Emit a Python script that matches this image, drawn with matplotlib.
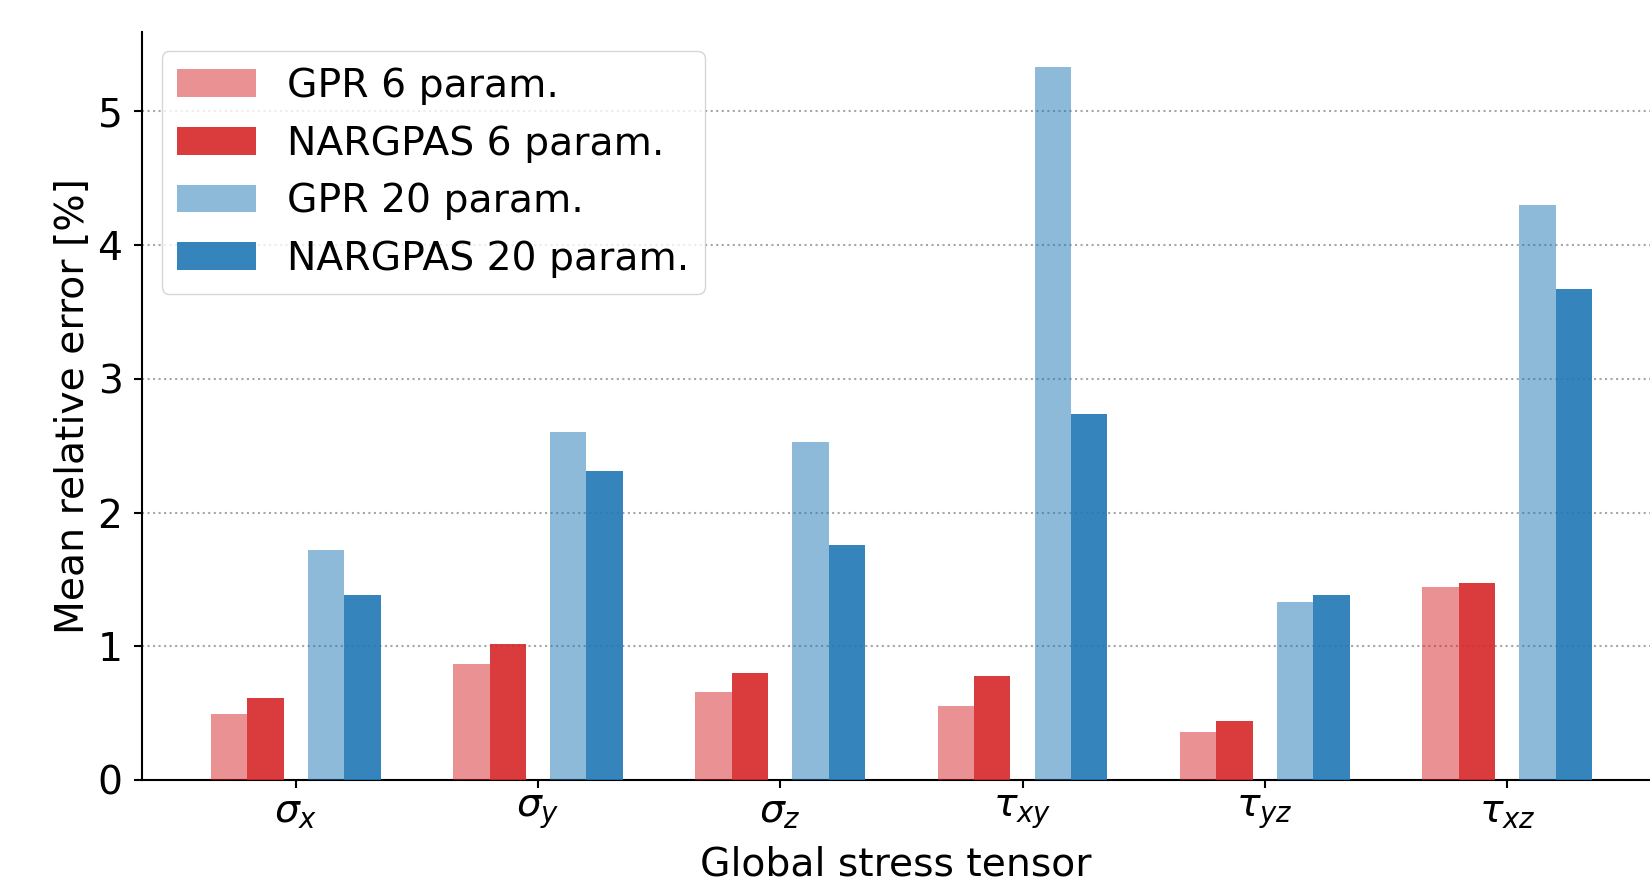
import numpy as np
import matplotlib
matplotlib.use("Agg")
import matplotlib.pyplot as plt

categories = [r"$\sigma_x$", r"$\sigma_y$", r"$\sigma_z$", r"$\tau_{xy}$", r"$\tau_{yz}$", r"$\tau_{xz}$"]
gpr_6 = [0.49, 0.87, 0.66, 0.55, 0.36, 1.44]
nargpas_6 = [0.61, 1.02, 0.80, 0.78, 0.44, 1.47]
gpr_20 = [1.72, 2.60, 2.53, 5.33, 1.33, 4.30]
nargpas_20 = [1.38, 2.31, 1.76, 2.74, 1.38, 3.67]
series_labels = ["GPR 6 param.", "NARGPAS 6 param.", "GPR 20 param.", "NARGPAS 20 param."]

FS = 28.3
fig = plt.figure(figsize=(16.5, 8.9), dpi=100)
ax = fig.add_axes([0.086, 0.1236, 0.914, 0.841])

x = np.arange(len(categories))
w = 0.15
series = [gpr_6, nargpas_6, gpr_20, nargpas_20]
offsets = [-0.275, -0.125, 0.125, 0.275]
colors = ["tab:red", "tab:red", "tab:blue", "tab:blue"]
alphas = [0.5, 0.9, 0.5, 0.9]
for vals, off, c, a, lab in zip(series, offsets, colors, alphas, series_labels):
    ax.bar(x + off, vals, width=w, color=c, alpha=a, label=lab, zorder=3)

ax.set_axisbelow(True)
ax.yaxis.grid(True, linestyle=":", color="gray", alpha=0.7, linewidth=1.5)
ax.spines["top"].set_visible(False)
ax.spines["right"].set_visible(False)
for s in ["left", "bottom"]:
    ax.spines[s].set_linewidth(1.5)

ax.set_xticks(x)
ax.set_xticklabels(categories)
ax.tick_params(axis="both", labelsize=FS, width=1.5, length=6)
ax.tick_params(axis="y", pad=8)
ax.set_yticks([0, 1, 2, 3, 4, 5])
ax.set_xlim(-0.635, 5.59)
ax.set_ylabel("Mean relative error [%]", fontsize=FS)
ax.set_xlabel("Global stress tensor", fontsize=FS, labelpad=10)

ax.legend(loc="upper left", fontsize=FS, handlelength=2.0)

fig.savefig("out.png", dpi=100)
